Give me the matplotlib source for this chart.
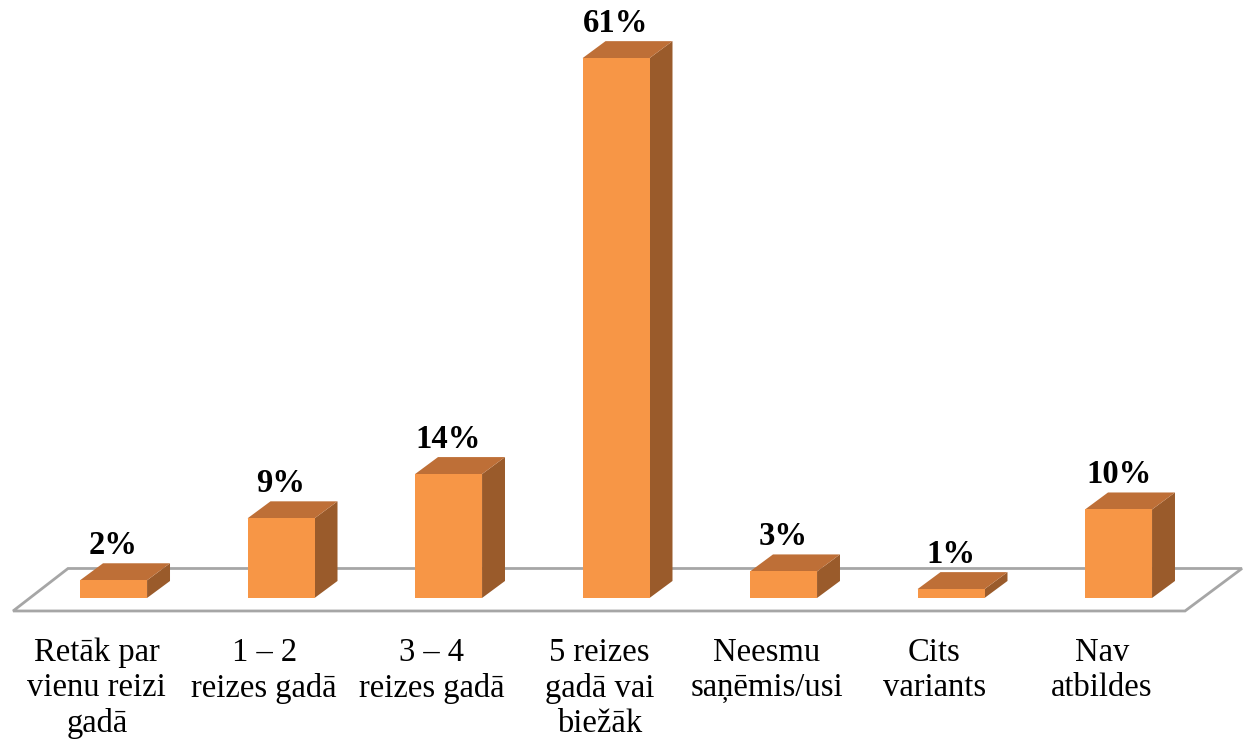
import numpy as np
import matplotlib.pyplot as plt
from matplotlib.patches import Polygon

plt.rcParams['font.family'] = ['Liberation Serif', 'DejaVu Serif']

# dati
categories = ["Retāk par\nvienu reizi\ngadā", "1 – 2\nreizes gadā", "3 – 4\nreizes gadā",
              "5 reizes\ngadā vai\nbiežāk", "Neesmu\nsaņēmis/usi", "Cits\nvariants", "Nav\natbildes"]
values = [2, 9, 14, 61, 3, 1, 10]
labels = ["2%", "9%", "14%", "61%", "3%", "1%", "10%"]

front_col = '#F79646'
top_col = '#BE6F37'
side_col = '#9A5B2B'
floor_col = '#A6A6A6'

fig = plt.figure(figsize=(12.45, 7.4), dpi=100)
ax = fig.add_axes([0, 0, 1, 1])
ax.set_xlim(-0.678, 6.755)
ax.set_ylim(-16.05, 67.57)
ax.axis('off')

x = np.arange(len(values))
w = 0.4
dx, dy = 0.137, 1.92  # glubums

# grīda
floor = Polygon([(-0.60, -1.47), (6.397, -1.47), (6.737, 3.33), (-0.272, 3.33)],
                closed=True, facecolor='white', edgecolor=floor_col, lw=2, zorder=1)
ax.add_patch(floor)

ax.bar(x, values, width=w, color=front_col, zorder=3)
for xi, v in zip(x, values):
    l, r = xi - w / 2, xi + w / 2
    # sāns
    ax.fill([r, r + dx, r + dx, r], [0, dy, v + dy, v], color=side_col, lw=0, zorder=2)
    # augša
    ax.fill([l, r, r + dx, l + dx], [v, v, v + dy, v + dy], color=top_col, lw=0, zorder=2)

for xi, v, lab in zip(x, values, labels):
    ax.text(xi, v + dy + 0.25, lab, ha='center', va='bottom', fontsize=23.5,
            fontweight='bold', zorder=4)

for xi, cat in zip(x, categories):
    ax.text(xi - 0.1, -4.45, cat, ha='center', va='top', fontsize=23.5,
            linespacing=1.2, zorder=4)

fig.savefig('out.png', dpi=100)
